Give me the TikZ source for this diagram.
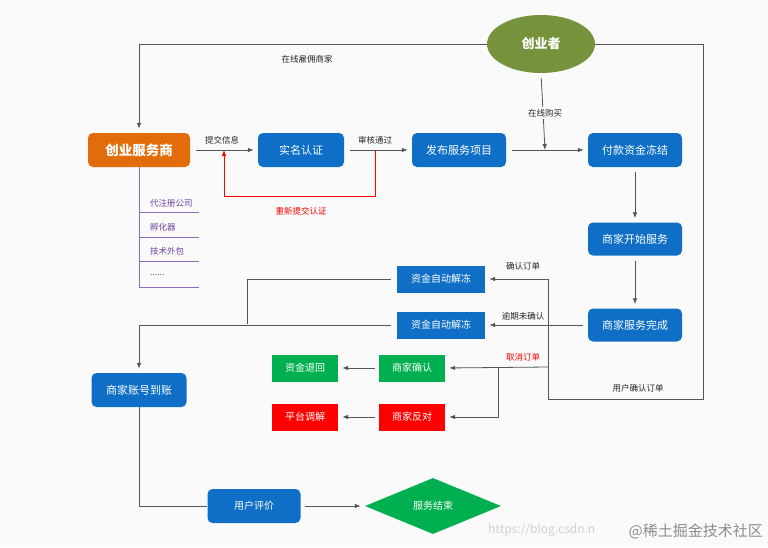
\documentclass[tikz,border=0pt]{standalone}
\usepackage{fontspec}
\setmainfont{Noto Sans CJK SC}
\usetikzlibrary{arrows.meta,shapes.geometric}
\definecolor{bg}{HTML}{FAFAFA}
\definecolor{bluebox}{HTML}{0F6FC6}
\definecolor{orangebox}{HTML}{E36C0A}
\definecolor{olivebox}{HTML}{76923C}
\definecolor{greenbox}{HTML}{00B050}
\definecolor{redbox}{HTML}{FF0000}
\definecolor{linegray}{HTML}{555555}
\definecolor{purpleline}{HTML}{8E6BBF}
\definecolor{purpletext}{HTML}{7040A0}
\tikzset{
  box/.style={rectangle, rounded corners=5pt, fill=bluebox, text=white, inner sep=0pt,
    minimum width=94pt, minimum height=34pt, font=\fontsize{11}{13}\selectfont},
  sqbox/.style={rectangle, fill=#1, text=white, inner sep=0pt,
    minimum width=66pt, minimum height=27pt, font=\fontsize{10}{12}\selectfont},
  conn/.style={draw=linegray, line width=0.8pt},
  arr/.style={conn, -{Latex[length=6pt,width=4.5pt]}, shorten >=4pt},
  lbl/.style={font=\fontsize{8.5}{10}\selectfont, text=black!85, inner sep=1pt},
  plist/.style={font=\fontsize{8.5}{10}\selectfont, text=purpletext, anchor=west, inner sep=0pt},
}
\begin{document}
\begin{tikzpicture}[x=1pt,y=-1pt]
\fill[bg] (0,0) rectangle (768,547);
\useasboundingbox (0,0) rectangle (768,547);

% nodes
\node[ellipse, fill=olivebox, text=white, minimum width=108pt, minimum height=58pt, inner sep=0pt,
  font=\fontsize{13}{15}\selectfont\bfseries] (ell) at (541,44) {创业者};
\node[box, fill=orangebox, minimum width=102pt, font=\fontsize{13.5}{15}\selectfont\bfseries] (sp) at (139,150) {创业服务商};
\node[box, minimum width=86pt] (sm) at (301,150) {实名认证};
\node[box] (fb) at (459,150) {发布服务项目};
\node[box] (fk) at (635,150) {付款资金冻结};
\node[box, minimum height=33pt] (ks) at (635,239) {商家开始服务};
\node[box, minimum height=33pt] (wc) at (635,325) {商家服务完成};
\node[sqbox=bluebox, minimum width=88pt] (fz1) at (441,279) {资金自动解冻};
\node[sqbox=bluebox, minimum width=88pt] (fz2) at (441,325) {资金自动解冻};
\node[box, minimum width=95pt] (dz) at (139,390) {商家账号到账};
\node[sqbox=greenbox] (th) at (305,368) {资金退回};
\node[sqbox=greenbox] (qr) at (412,368) {商家确认};
\node[sqbox=redbox] (tj) at (305,417) {平台调解};
\node[sqbox=redbox] (fd) at (412,417) {商家反对};
\node[box, minimum width=93pt, font=\fontsize{10}{12}\selectfont] (pj) at (254,506) {用户评价};
\node[diamond, fill=greenbox, text=white, minimum width=136pt, minimum height=56pt, aspect=2.4,
  inner sep=0pt, font=\fontsize{10}{12}\selectfont] (end) at (433,506) {服务结束};

% coordinates
\coordinate (r1) at (703,399);
\coordinate (r2) at (548,279);
\coordinate (c1) at (548,367);
\coordinate (c2) at (498,367);
\coordinate (j1) at (247,324);
\coordinate (red1) at (375,150);
\coordinate (red2) at (224,196);
\coordinate (red3) at (224,150);
\coordinate (buy) at (545,150);
\coordinate (p0) at (139,167);
\coordinate (p1) at (199,212);
\coordinate (p2) at (199,237);
\coordinate (p3) at (199,261);
\coordinate (p4) at (199,287);

% top connectors
\draw[arr] (ell.west) -| (sp.north);
\node[lbl] (l1) at (307,59) {在线雇佣商家};
\draw[conn] (ell.east) -| (r1) -| (r2);
\draw[arr] (r2) -- (fz1.east);
\node[lbl] (l2) at (523,266) {确认订单};
\node[lbl] (l3) at (638,388) {用户确认订单};

\draw[arr, shorten <=6pt] (sp.east) -- (sm.west);
\node[lbl] (l4) at (222,140) {提交信息};
\draw[arr, shorten <=6pt] (sm.east) -- (fb.west);
\node[lbl] (l5) at (375,140) {审核通过};
\draw[draw=red, line width=0.8pt, -{Latex[length=6pt,width=4.5pt]}] (red1) |- (red2) -- (red3);
\node[lbl, text=red] (l6) at (301,211) {重新提交认证};

\draw[arr, shorten <=6pt] (fb.east) -- (fk.west);
\draw[arr, shorten <=5pt, shorten >=0pt] (ell.south) -- (buy);
\node[lbl, fill=bg, inner sep=2pt] (l7) at (545,113) {在线购买};

\draw[arr, shorten <=5pt] (fk.south) -- (ks.north);
\draw[arr, shorten <=5pt] (ks.south) -- (wc.north);
\draw[arr, shorten <=5pt] (wc.west) -- (fz2.east);
\node[lbl] (l8) at (523,316) {逾期未确认};

% cancel order
\draw[arr] (c1) -- (qr.east);
\draw[arr] (c2) |- (fd.east);
\node[lbl, text=red] (l9) at (523,357) {取消订单};
\draw[arr, shorten <=4pt] (qr.west) -- (th.east);
\draw[arr, shorten <=4pt] (fd.west) -- (tj.east);

% unfreeze to account
\draw[conn, shorten <=6pt] (fz1.west) -| (j1);
\draw[arr, shorten <=6pt] (fz2.west) -| (dz.north);
\draw[conn] (dz.south) |- (pj.west);
\draw[arr, shorten <=4pt] (pj.east) -- (end.west);

% purple list
\draw[draw=purpleline, line width=0.8pt] (p0) |- (p4);
\draw[draw=purpleline, line width=0.8pt] (p0 |- p1) -- (p1);
\draw[draw=purpleline, line width=0.8pt] (p0 |- p2) -- (p2);
\draw[draw=purpleline, line width=0.8pt] (p0 |- p3) -- (p3);
\node[plist] (t1) at (150,203) {代注册公司};
\node[plist] (t2) at (150,227) {孵化器};
\node[plist] (t3) at (150,251) {技术外包};
\node[plist] (t4) at (150,275) {......};

% watermark
\node[font=\fontsize{12}{14}\selectfont, text=black!18, anchor=west, inner sep=0pt] (wm1) at (488,530) {https://blog.csdn.n};
\node[font=\fontsize{15}{17}\selectfont, text=black!45, anchor=east, inner sep=0pt] (wm2) at (763,531) {@稀土掘金技术社区};
\end{tikzpicture}
\end{document}
